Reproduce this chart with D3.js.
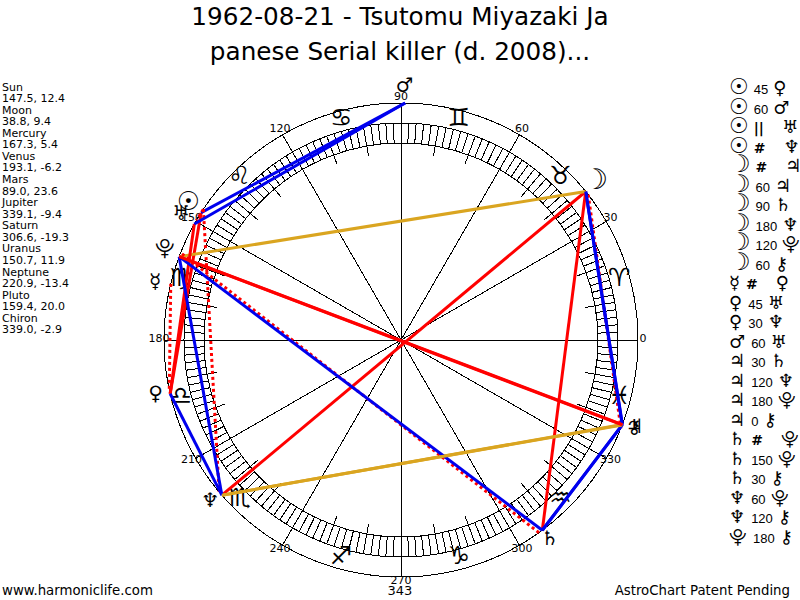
<!DOCTYPE html>
<html>
<head>
<meta charset="utf-8">
<script src="https://cdn.jsdelivr.net/npm/d3@7"></script>
<style>
  body { margin: 0; background: #fff; }
  svg { display: block; }
  text { font-family: "DejaVu Sans", Verdana, sans-serif; fill: #000; }
  .glyph { font-family: "DejaVu Serif", "DejaVu Sans", serif; }
  .num { font-family: "Liberation Sans", Arial, sans-serif; }
</style>
</head>
<body>
<div id="container"></div>
<script>
// chart values
const titleLines = ["1962-08-21 - Tsutomu Miyazaki Ja", "panese Serial killer (d. 2008)..."];

const planetNames = ["Sun", "Moon", "Mercury", "Venus", "Mars", "Jupiter", "Saturn", "Uranus", "Neptune", "Pluto", "Chiron"];
const longitudes = [147.5, 38.8, 167.3, 193.1, 89.0, 339.1, 306.6, 150.7, 220.9, 159.4, 339.0];
const declinations = ["12.4", "9.4", "5.4", "-6.2", "23.6", "-9.4", "-19.3", "11.9", "-13.4", "20.0", "-2.9"];
const planetGlyphs = ["\u2609", "\u263D", "\u263F", "\u2640", "\u2642", "\u2643", "\u2644", "\u2645", "\u2646", "\u2BD3", "\u26B7"];

const signGlyphs = ["\u2648", "\u2649", "\u264A", "\u264B", "\u264C", "\u264D", "\u264E", "\u264F", "\u2650", "\u2651", "\u2652", "\u2653"];
const degreeLabels = [0, 30, 60, 90, 120, 150, 180, 210, 240, 270, 300, 330];

// aspects, same order as the list on the right
const aspectFrom = ["Sun","Sun","Sun","Sun","Moon","Moon","Moon","Moon","Moon","Moon","Mercury","Venus","Venus","Mars","Jupiter","Jupiter","Jupiter","Jupiter","Saturn","Saturn","Saturn","Neptune","Neptune","Pluto"];
const aspectType = ["45","60","||","#","#","60","90","180","120","60","#","45","30","60","30","120","180","0","#","150","30","60","120","180"];
const aspectTo = ["Venus","Mars","Uranus","Neptune","Jupiter","Jupiter","Saturn","Neptune","Pluto","Chiron","Venus","Uranus","Neptune","Uranus","Saturn","Neptune","Pluto","Chiron","Pluto","Pluto","Chiron","Pluto","Chiron","Chiron"];

const aspectColor = d3.scaleOrdinal()
  .domain(["0", "30", "45", "60", "90", "120", "150", "180", "||", "#"])
  .range(["red", "#0000ee", "red", "#0000ee", "red", "goldenrod", "#0000ee", "red", "red", "red"]);

const width = 800, height = 600;
const cx = 401, cy = 340;
const rOuter = 237, rRingOut = 217, rRingIn = 197, rTick = 187;
const dotShift = -1; // dotted declination lines sit about a degree off in the original

const isDotted = d => d.type === "||" || d.type === "#";
const chartSize = name => name === "Sun" ? 26 : name === "Moon" ? 28 : 20;
const listSize = name => name === "Sun" ? 22 : name === "Moon" ? 24 : 18;

const svg = d3.select("#container").append("svg")
  .attr("width", width)
  .attr("height", height);

// angle scale, degrees go counter clockwise from the right
const angle = d3.scaleLinear().domain([0, 360]).range([0, -2 * Math.PI]);
const px = (deg, r) => cx + r * Math.cos(angle(deg));
const py = (deg, r) => cy + r * Math.sin(angle(deg));

// title
svg.selectAll("text.title")
  .data(titleLines)
  .join("text")
  .attr("class", "title")
  .attr("x", 400)
  .attr("y", (d, i) => 25 + i * 35)
  .attr("text-anchor", "middle")
  .attr("font-size", "24.7px")
  .text(d => d);

// wheel
const wheel = svg.append("g")
  .attr("fill", "none")
  .attr("stroke", "#000")
  .attr("stroke-width", 1)
  .attr("shape-rendering", "crispEdges");

wheel.selectAll("circle")
  .data([rOuter, rRingOut, rRingIn])
  .join("circle")
  .attr("cx", cx)
  .attr("cy", cy)
  .attr("r", d => d);

wheel.selectAll("line.fine")
  .data(d3.range(0, 360, 2))
  .join("line")
  .attr("class", "fine")
  .attr("x1", d => px(d, rRingIn))
  .attr("y1", d => py(d, rRingIn))
  .attr("x2", d => px(d, rRingOut))
  .attr("y2", d => py(d, rRingOut));

wheel.selectAll("line.ten")
  .data(d3.range(0, 360, 10))
  .join("line")
  .attr("class", "ten")
  .attr("x1", d => px(d, rTick))
  .attr("y1", d => py(d, rTick))
  .attr("x2", d => px(d, rRingIn))
  .attr("y2", d => py(d, rRingIn));

wheel.selectAll("line.spoke")
  .data(degreeLabels)
  .join("line")
  .attr("class", "spoke")
  .attr("x1", cx)
  .attr("y1", cy)
  .attr("x2", d => px(d, rOuter))
  .attr("y2", d => py(d, rOuter));

svg.selectAll("text.deg")
  .data(degreeLabels)
  .join("text")
  .attr("class", "deg")
  .attr("x", d => px(d, 242))
  .attr("y", d => py(d, 242) + 2)
  .attr("text-anchor", "middle")
  .attr("font-size", "11px")
  .text(d => d);

svg.selectAll("text.sign")
  .data(signGlyphs)
  .join("text")
  .attr("class", "sign glyph")
  .attr("x", (d, i) => px(15 + i * 30, 227) - 1)
  .attr("y", (d, i) => py(15 + i * 30, 227) + 5)
  .attr("text-anchor", "middle")
  .attr("font-size", "25px")
  .text(d => d + "\uFE0E");

// aspect lines
const lonOf = name => longitudes[planetNames.indexOf(name)];
const glyphOf = name => planetGlyphs[planetNames.indexOf(name)];
const aspects = aspectType.map((t, i) => ({ type: t, from: aspectFrom[i], to: aspectTo[i] }));
const lineLon = (name, d) => lonOf(name) + (isDotted(d) ? dotShift : 0);

svg.append("g").selectAll("line")
  .data(aspects)
  .join("line")
  .attr("x1", d => px(lineLon(d.from, d), rOuter))
  .attr("y1", d => py(lineLon(d.from, d), rOuter))
  .attr("x2", d => px(lineLon(d.to, d), rOuter))
  .attr("y2", d => py(lineLon(d.to, d), rOuter))
  .attr("stroke", d => aspectColor(d.type))
  .attr("stroke-width", 3)
  .attr("stroke-dasharray", d => isDotted(d) ? "3,3" : null);

// planet glyphs on the wheel
svg.selectAll("text.planet")
  .data(planetNames)
  .join("text")
  .attr("class", "planet glyph")
  .attr("x", d => px(lonOf(d), 251) - 1)
  .attr("y", d => py(lonOf(d), 251) + chartSize(d) * 0.35 - 4)
  .attr("text-anchor", "middle")
  .attr("font-size", d => chartSize(d) + "px")
  .text(d => glyphOf(d) + "\uFE0E");

// position list on the left
const positionLines = planetNames.flatMap((d, i) => [d, longitudes[i].toFixed(1) + ", " + declinations[i]]);
svg.selectAll("text.pos")
  .data(positionLines)
  .join("text")
  .attr("class", "pos")
  .attr("x", 2)
  .attr("y", (d, i) => 90.5 + i * 11.57)
  .attr("font-size", "11px")
  .text(d => d);

// aspect list on the right
const rows = svg.selectAll("text.row")
  .data(aspects)
  .join("text")
  .attr("class", "row")
  .attr("x", 729)
  .attr("y", (d, i) => 94 + i * 19.52);

rows.append("tspan")
  .attr("class", "glyph")
  .attr("font-size", d => listSize(d.from) + "px")
  .text(d => glyphOf(d.from) + "\uFE0E");
rows.append("tspan")
  .attr("class", d => isNaN(d.type) ? null : "num")
  .attr("font-size", d => isNaN(d.type) ? "14px" : "13px")
  .attr("font-weight", d => isNaN(d.type) ? "bold" : null)
  .attr("dx", d => d.from === "Sun" || d.from === "Moon" ? 5 : 6)
  .text(d => d.type);
rows.append("tspan")
  .attr("class", "glyph")
  .attr("font-size", d => listSize(d.to) + "px")
  .attr("dx", d => isNaN(d.type) ? 18 : 5)
  .text(d => glyphOf(d.to) + "\uFE0E");

// footer
svg.append("text").attr("x", 2).attr("y", 595).attr("font-size", "13.3px").text("www.harmoniclife.com");
svg.append("text").attr("x", 790).attr("y", 595).attr("text-anchor", "end").attr("font-size", "13.3px").text("AstroChart Patent Pending");
svg.append("text").attr("x", 400).attr("y", 595).attr("text-anchor", "middle").attr("font-size", "13px").text("343");
</script>
</body>
</html>
